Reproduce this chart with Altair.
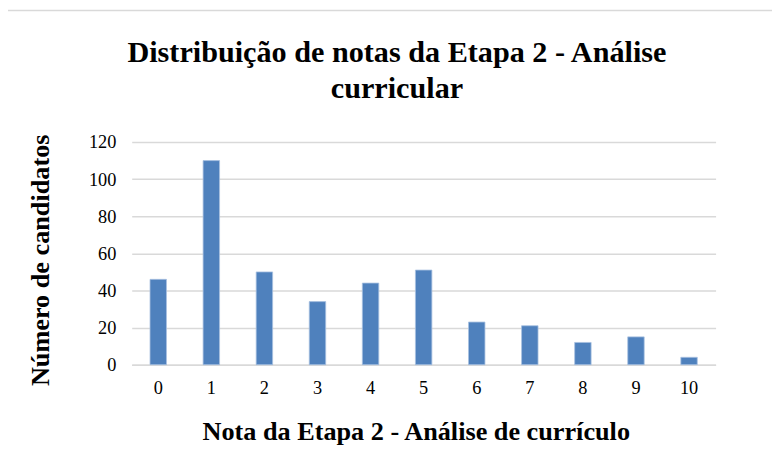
import altair as alt
import pandas as pd

notas = ["0", "1", "2", "3", "4", "5", "6", "7", "8", "9", "10"]
candidatos = [46, 110, 50, 34, 44, 51, 23, 21, 12, 15, 4]

df = pd.DataFrame({"nota": notas, "n": candidatos})

bars = alt.Chart(df).mark_bar(color="#4f81bd", stroke="#a9c1e0", strokeWidth=0.8).encode(
    x=alt.X("nota:O", sort=notas,
            scale=alt.Scale(paddingInner=0.69, paddingOuter=0.345),
            axis=alt.Axis(title="Nota da Etapa 2 - Análise de currículo", labelAngle=0,
                          ticks=False, domain=True, domainColor="#d9d9d9", domainWidth=1.5,
                          labelFont="Liberation Serif", labelFontSize=18.5, labelColor="#000",
                          labelPadding=14,
                          titleFont="Liberation Serif", titleFontSize=26.5, titleFontWeight="bold",
                          titleColor="#000", titlePadding=22, titleX=287)),
    y=alt.Y("n:Q", scale=alt.Scale(domain=[0, 120]),
            axis=alt.Axis(title="Número de candidatos", values=[0, 20, 40, 60, 80, 100, 120],
                          ticks=False, domain=False, grid=True, gridColor="#d9d9d9", gridWidth=1.5,
                          labelFont="Liberation Serif", labelFontSize=18.5, labelColor="#000",
                          labelPadding=16,
                          titleFont="Liberation Serif", titleFontSize=26.5, titleFontWeight="bold",
                          titleColor="#000", titlePadding=34, titleY=119)),
)

border = alt.Chart(pd.DataFrame({"k": [0]})).mark_rect(
    fill=None, stroke="#d9d9d9", strokeWidth=1.5
).encode(
    x=alt.value(-126), y=alt.value(-133), x2=alt.value(800), y2=alt.value(500)
)

chart = alt.layer(border, bars).properties(
    width=590, height=225,
    autosize=alt.AutoSizeParams(type="none"),
    padding={"left": 125, "top": 133, "right": 57, "bottom": 109},
    title=alt.TitleParams(
        text=["Distribuição de notas da Etapa 2 - Análise", "curricular"],
        font="Liberation Serif", fontSize=30.5, fontWeight="bold", color="#000",
        anchor="middle", frame="group", dx=-27, offset=-96, lineHeight=37
    ),
).configure_view(stroke=None)

chart.save("out.html", embed_options={"renderer": "svg", "actions": False})
